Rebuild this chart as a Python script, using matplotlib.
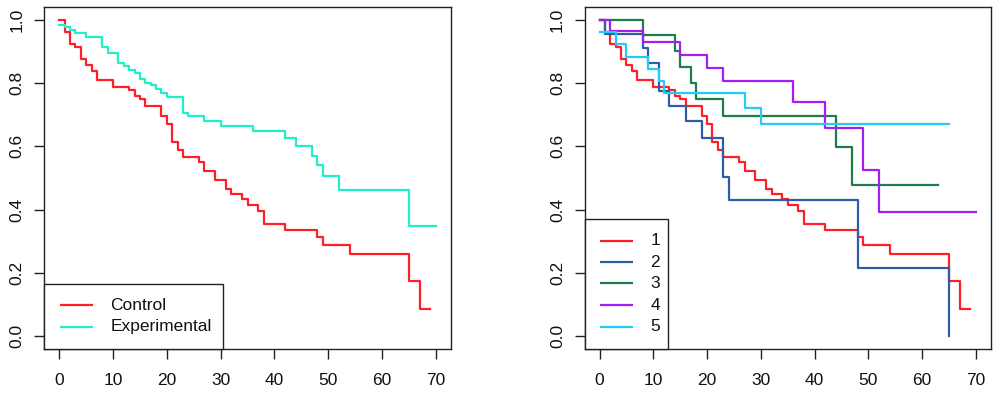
import matplotlib
matplotlib.use('Agg')
import matplotlib.pyplot as plt
from matplotlib.patches import Rectangle

plt.rcParams['font.family'] = ['Liberation Sans', 'DejaVu Sans']

# ---- data: Kaplan-Meier steps (event times, survival after the event) ----
control_t = [1, 2, 3, 4, 5, 6, 7, 10, 13, 14, 15, 16, 19, 20, 21, 22, 23, 26,
             27, 29, 31, 32, 34, 35, 37, 38, 42, 48, 49, 54, 65, 67]
control_s = [0.963, 0.923, 0.914, 0.877, 0.858, 0.837, 0.810, 0.789, 0.779,
             0.760, 0.749, 0.729, 0.695, 0.670, 0.614, 0.590, 0.565, 0.550,
             0.522, 0.493, 0.466, 0.449, 0.433, 0.414, 0.395, 0.355, 0.336,
             0.313, 0.289, 0.261, 0.173, 0.087]
control_start, control_end = 1.0, 69

exp_t = [1, 2, 3, 5, 8, 9, 11, 12, 13, 14, 15, 16, 17, 18, 19, 20, 23, 24,
         27, 30, 36, 42, 44, 47, 48, 49, 52, 65]
exp_s = [0.979, 0.968, 0.958, 0.947, 0.914, 0.897, 0.863, 0.853, 0.842,
         0.832, 0.814, 0.802, 0.793, 0.781, 0.768, 0.756, 0.707, 0.695,
         0.681, 0.666, 0.648, 0.626, 0.602, 0.570, 0.540, 0.505, 0.463, 0.349]
exp_start, exp_end = 0.985, 70

g2_t = [1, 8, 9, 11, 13, 16, 19, 23, 24, 48, 65]
g2_s = [0.957, 0.911, 0.864, 0.774, 0.729, 0.679, 0.627, 0.502, 0.430, 0.215, 0.0]
g2_start, g2_end = 1.0, 65

g3_t = [8, 14, 15, 17, 18, 23, 44, 47]
g3_s = [0.952, 0.903, 0.852, 0.801, 0.751, 0.697, 0.598, 0.479]
g3_start, g3_end = 1.0, 63

g4_t = [2, 8, 15, 20, 23, 36, 42, 49, 52]
g4_s = [0.964, 0.929, 0.888, 0.847, 0.806, 0.739, 0.658, 0.526, 0.394]
g4_start, g4_end = 1.0, 70

g5_t = [3, 5, 9, 11, 12, 27, 30]
g5_s = [0.924, 0.884, 0.844, 0.806, 0.769, 0.721, 0.670]
g5_start, g5_end = 0.963, 65

left_labels = ['Control', 'Experimental']
right_labels = ['1', '2', '3', '4', '5']

RED = '#FF1F2A'
AQUA = '#1FF0C8'
BLUE = '#2F5DA3'
GREEN = '#1E7D4D'
PURPLE = '#A41EF2'
SKY = '#22CCF8'

FS = 12.5
LW = 1.6


def km_step(ax, times, surv, start, end, color):
    t = [0] + list(times) + [end]
    s = [start] + list(surv) + [surv[-1]]
    ax.step(t, s, where='post', color=color, lw=LW)


def style_axes(ax):
    ax.set_xlim(-2.8, 72.8)
    ax.set_ylim(-0.04, 1.04)
    ax.set_xticks(range(0, 71, 10))
    ax.set_yticks([0.0, 0.2, 0.4, 0.6, 0.8, 1.0])
    ax.set_yticklabels(['0.0', '0.2', '0.4', '0.6', '0.8', '1.0'])
    for sp in ax.spines.values():
        sp.set_linewidth(1.0)
        sp.set_color('#222222')
    ax.tick_params(axis='both', direction='out', length=7.5, width=1.0,
                   color='#222222', labelsize=FS, labelcolor='#111111')
    ax.tick_params(axis='x', pad=10)
    ax.tick_params(axis='y', pad=6.5)
    for lab in ax.get_yticklabels():
        lab.set_rotation(90)
        lab.set_va('center')


def r_legend(ax, labels, colors, box_w, box_h, rows_y):
    # R style legend box in the bottom-left corner
    ax.add_patch(Rectangle((0, 0), box_w, box_h, transform=ax.transAxes,
                           facecolor='white', edgecolor='#222222', lw=1.0,
                           zorder=5, clip_on=False))
    for lab, c, y in zip(labels, colors, rows_y):
        ax.plot([0.038, 0.12], [y, y], transform=ax.transAxes, color=c,
                lw=LW, zorder=6, solid_capstyle='butt')
        ax.text(0.162, y, lab, transform=ax.transAxes, fontsize=FS,
                va='center', ha='left', color='#111111', zorder=6)


fig = plt.figure(figsize=(10, 3.93), dpi=100)
fig.patch.set_facecolor('white')
ax1 = fig.add_axes([0.0443, 0.1127, 0.4064, 0.8687])
ax2 = fig.add_axes([0.5845, 0.1127, 0.4064, 0.8687])

# left panel
km_step(ax1, control_t, control_s, control_start, control_end, RED)
km_step(ax1, exp_t, exp_s, exp_start, exp_end, AQUA)
style_axes(ax1)
r_legend(ax1, left_labels, [RED, AQUA], 0.439, 0.1886, [0.128, 0.0644])

# right panel
km_step(ax2, control_t, control_s, control_start, control_end, RED)
km_step(ax2, g2_t, g2_s, g2_start, g2_end, BLUE)
km_step(ax2, g3_t, g3_s, g3_start, g3_end, GREEN)
km_step(ax2, g4_t, g4_s, g4_start, g4_end, PURPLE)
km_step(ax2, g5_t, g5_s, g5_start, g5_end, SKY)
style_axes(ax2)
r_legend(ax2, right_labels, [RED, BLUE, GREEN, PURPLE, SKY], 0.2047, 0.379,
         [0.3157, 0.253, 0.1916, 0.128, 0.0644])

fig.savefig('out.png', dpi=100, facecolor='white')
